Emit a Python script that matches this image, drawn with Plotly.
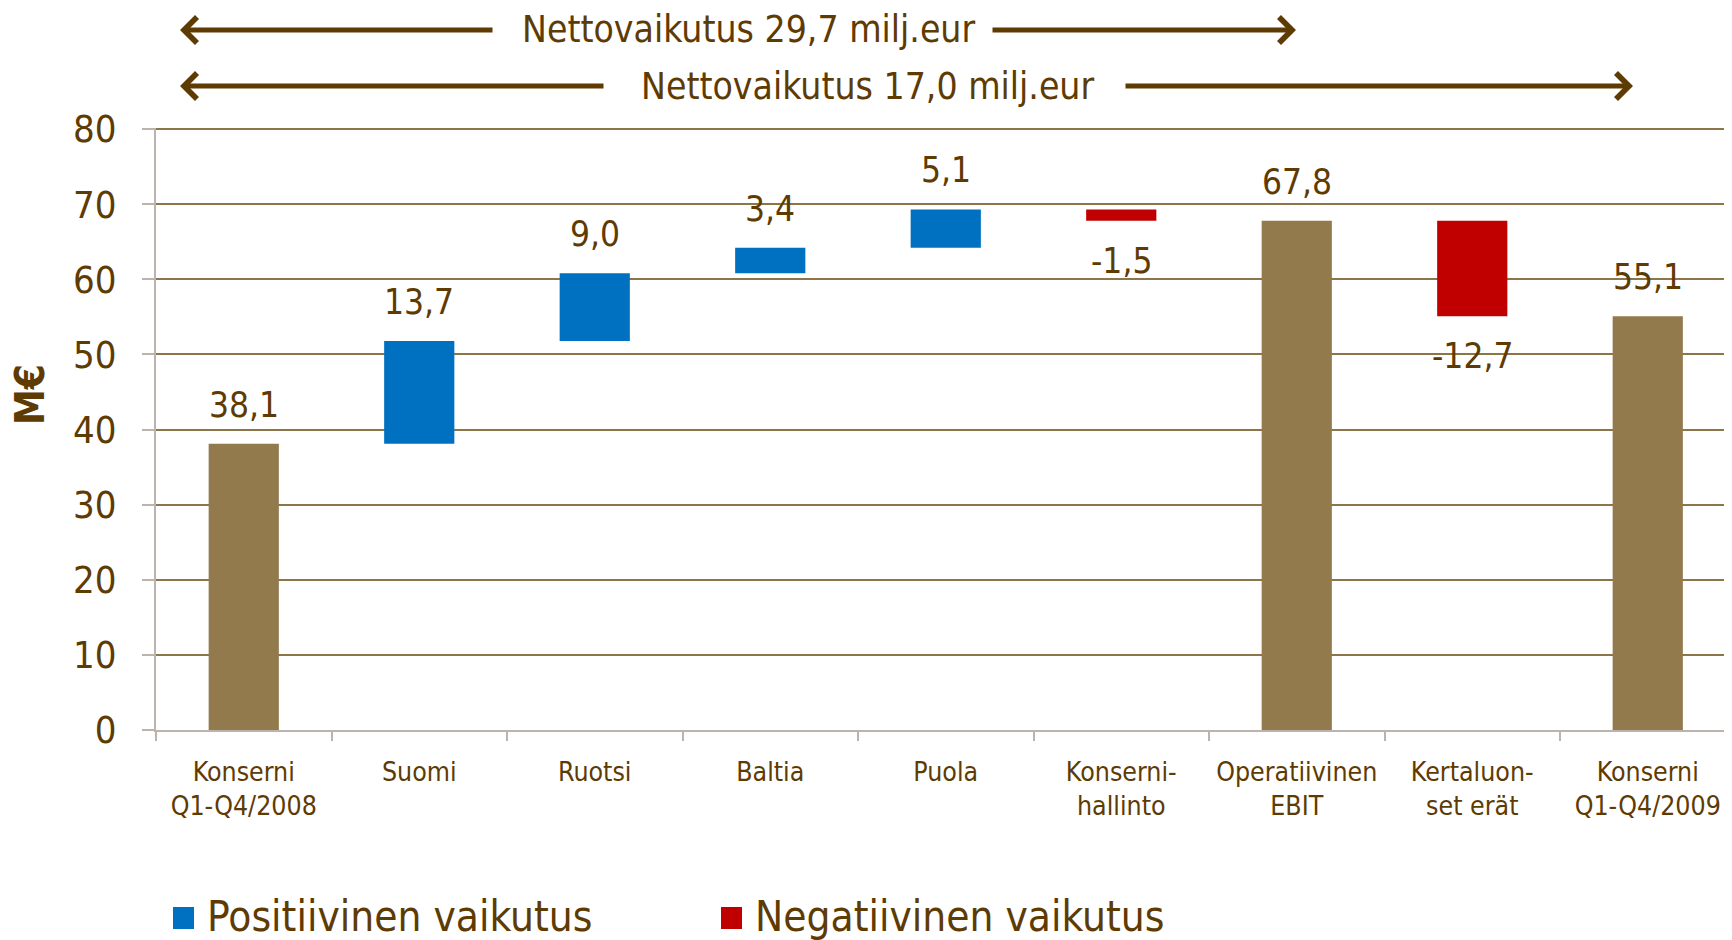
import plotly.graph_objects as go

# ---------------- data ----------------
categories = ["Konserni<br>Q1-Q4/2008", "Suomi", "Ruotsi", "Baltia", "Puola",
              "Konserni-<br>hallinto", "Operatiivinen<br>EBIT", "Kertaluon-<br>set erät",
              "Konserni<br>Q1-Q4/2009"]
values = [38.1, 13.7, 9.0, 3.4, 5.1, -1.5, 67.8, -12.7, 55.1]
kinds = ["total", "delta", "delta", "delta", "delta", "delta", "total", "delta", "total"]
value_labels = ["38,1", "13,7", "9,0", "3,4", "5,1", "-1,5", "67,8", "-12,7", "55,1"]
y_ticks = [0, 10, 20, 30, 40, 50, 60, 70, 80]
legend_names = ["Positiivinen vaikutus", "Negatiivinen vaikutus"]
net_texts = ["Nettovaikutus 29,7 milj.eur", "Nettovaikutus 17,0 milj.eur"]

# ---------------- styles ----------------
FONT = "DejaVu Sans Condensed, Liberation Sans Narrow, sans-serif"
TXT = "#5E3B03"
BROWN = "#927A4D"
BLUE = "#0070C0"
RED = "#C00000"
GRID = "#8C7549"
AXIS = "#BDB3AC"

OFF = 8                      # page body margin
W, H = 1732 - OFF, 940 - OFF
L, T, B = 156 - OFF, 128 - OFF, 210
PW, PH = W - L, H - T - B

def px(xp):                  # reference page x -> paper
    return (xp - OFF - L) / PW

def py(yp):                  # reference page y -> paper
    return (H - B - (yp - OFF)) / PH

# ---------------- waterfall geometry from data ----------------
bases, heights, colors = [], [], []
running = 0.0
for v, k in zip(values, kinds):
    if k == "total":
        bases.append(0.0)
        heights.append(v)
        colors.append(BROWN)
        running = v
    else:
        bases.append(running)
        heights.append(v)
        colors.append(BLUE if v >= 0 else RED)
        running += v

fig = go.Figure()
fig.add_trace(go.Bar(
    x=categories, y=heights, base=bases,
    marker=dict(color=colors, line=dict(width=0)),
    width=0.4, showlegend=False, hoverinfo="skip",
))

annotations = []
for cat, b, h, lab in zip(categories, bases, heights, value_labels):
    annotations.append(dict(x=cat, y=b + h, xref="x", yref="y", text=lab,
                            showarrow=False, yanchor="middle",
                            yshift=39 if h >= 0 else -40,
                            font=dict(family=FONT, size=35, color=TXT)))

# y axis title
annotations.append(dict(x=px(30), y=py(395), xref="paper", yref="paper", text="<b>M€</b>",
                        textangle=-90, showarrow=False, xanchor="center", yanchor="middle",
                        font=dict(family=FONT, size=40, color=TXT)))

# net effect arrows and texts
rows = [
    (30, 180, 494, 748.5, 991, 1296),
    (86, 180, 605, 867.5, 1124, 1633),
]
for (yy, lhead, ltail, tc, rtail, rhead), txt in zip(rows, net_texts):
    annotations.append(dict(x=px(lhead), y=py(yy), xref="paper", yref="paper", text="",
                            showarrow=True, ax=ltail - lhead, ay=0, axref="pixel", ayref="pixel",
                            arrowhead=4, arrowsize=1.0, arrowwidth=5, arrowcolor=TXT))
    annotations.append(dict(x=px(rhead), y=py(yy), xref="paper", yref="paper", text="",
                            showarrow=True, ax=rtail - rhead, ay=0, axref="pixel", ayref="pixel",
                            arrowhead=4, arrowsize=1.0, arrowwidth=5, arrowcolor=TXT))
    annotations.append(dict(x=px(tc), y=py(yy), xref="paper", yref="paper", text=txt,
                            showarrow=False, xanchor="center", yanchor="middle",
                            font=dict(family=FONT, size=37, color=TXT)))

# manual legend
shapes = []
legend_items = [(173, 205, BLUE, legend_names[0]), (721, 753, RED, legend_names[1])]
for x0, tx, col, name in legend_items:
    shapes.append(dict(type="rect", xref="paper", yref="paper",
                       x0=px(x0), x1=px(x0 + 21), y0=py(907), y1=py(929),
                       fillcolor=col, line=dict(width=0)))
    annotations.append(dict(x=px(tx), y=py(916), xref="paper", yref="paper", text=name,
                            showarrow=False, xanchor="left", yanchor="middle",
                            font=dict(family=FONT, size=42, color=TXT)))

fig.update_layout(
    width=W, height=H,
    margin=dict(l=L, r=0, t=T, b=B, pad=0, autoexpand=False),
    paper_bgcolor="white", plot_bgcolor="white",
    annotations=annotations, shapes=shapes,
    showlegend=False,
    xaxis=dict(
        type="category", range=[-0.5, 8.48], automargin=False, tickangle=0,
        showline=True, linecolor=AXIS, linewidth=2,
        ticks="outside", tickson="boundaries", ticklen=9, tickcolor=AXIS, tickwidth=2,
        showgrid=False, zeroline=False,
        tickfont=dict(family=FONT, size=26.5, color=TXT),
        ticklabelstandoff=17,
    ),
    yaxis=dict(
        range=[0, 80.15], tickvals=y_ticks, ticktext=[str(v) for v in y_ticks],
        automargin=False,
        showline=True, linecolor=AXIS, linewidth=2,
        ticks="outside", ticklen=12, tickcolor=AXIS, tickwidth=2,
        showgrid=True, gridcolor=GRID, gridwidth=1.5, zeroline=False,
        tickfont=dict(family=FONT, size=38, color=TXT),
        ticklabelstandoff=18,
    ),
)

fig.write_html("out.html")
